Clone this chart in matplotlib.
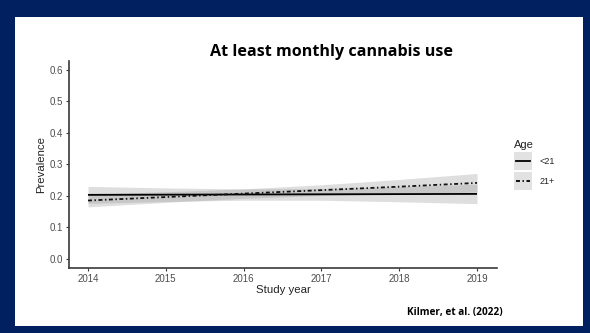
import matplotlib.pyplot as plt
from matplotlib.patches import Rectangle
from matplotlib.lines import Line2D

years = [2014, 2015, 2016, 2017, 2018, 2019]

# Fitted prevalence and confidence limits by age group
under21_fit = [0.203, 0.2036, 0.2042, 0.2048, 0.2054, 0.206]
under21_low = [0.176, 0.182, 0.186, 0.186, 0.181, 0.175]
under21_high = [0.230, 0.225, 0.222, 0.223, 0.229, 0.237]

over21_fit = [0.185, 0.196, 0.207, 0.218, 0.229, 0.241]
over21_low = [0.165, 0.179, 0.192, 0.201, 0.206, 0.212]
over21_high = [0.205, 0.213, 0.222, 0.235, 0.252, 0.271]

y_ticks = [0.0, 0.1, 0.2, 0.3, 0.4, 0.5, 0.6]
legend_labels = ["<21", "21+"]

NAVY = "#012060"
AXIS_GREY = "#3a3a3a"
TEXT_GREY = "#4d4d4d"
FONT = ["Liberation Sans", "DejaVu Sans"]
TITLE_FONT = ["Open Sans", "DejaVu Sans"]
DOTDASH = (0, (2.2, 1.4, 0.8, 1.4))

fig = plt.figure(figsize=(5.9, 3.33), dpi=100)
fig.patch.set_facecolor(NAVY)

# white slide panel inside the navy frame
fig.add_artist(Rectangle((15 / 590, 1 - 326 / 333), (583 - 15) / 590, (326 - 17) / 333,
                         transform=fig.transFigure, facecolor="white",
                         edgecolor="none", zorder=0))

ax = fig.add_axes([69 / 590, 1 - 267.7 / 333, (497 - 69) / 590, (267.7 - 61) / 333])
ax.set_facecolor("white")

ax.fill_between(years, under21_low, under21_high, color="#999999", alpha=0.32,
                linewidth=0, zorder=1)
ax.fill_between(years, over21_low, over21_high, color="#999999", alpha=0.32,
                linewidth=0, zorder=1)
ax.plot(years, under21_fit, color="black", linewidth=1.3, solid_capstyle="butt", zorder=3)
ax.plot(years, over21_fit, color="#111111", linewidth=1.3, linestyle=DOTDASH, zorder=3)

ax.set_xlim(2013.756, 2019.257)
ax.set_ylim(-0.0286, 0.6286)
ax.set_xticks(years)
ax.set_xticklabels([str(y) for y in years])
ax.set_yticks(y_ticks)
ax.set_yticklabels([f"{v:.1f}" for v in y_ticks])

for side in ["top", "right"]:
    ax.spines[side].set_visible(False)
for side in ["left", "bottom"]:
    ax.spines[side].set_color(AXIS_GREY)
    ax.spines[side].set_linewidth(1.2)

ax.tick_params(axis="both", colors=AXIS_GREY, length=2.5, width=0.8, pad=2)
for lab in ax.get_xticklabels() + ax.get_yticklabels():
    lab.set_color(TEXT_GREY)
    lab.set_fontsize(7)
    lab.set_family(FONT)

ax.set_xlabel("Study year", fontsize=8.2, family=FONT, color="#222222", labelpad=1)
ax.set_ylabel("Prevalence", fontsize=8.2, family=FONT, color="#222222", labelpad=2)

fig.text(331 / 590, 1 - 52 / 333, "At least monthly cannabis use", ha="center",
         va="center", fontsize=11.6, fontweight="bold", family=TITLE_FONT, color="black")
fig.text(455 / 590, 1 - 313 / 333, "Kilmer, et al. (2022)", ha="center", va="center",
         fontsize=7.2, fontweight="bold", family=TITLE_FONT, color="black")

# legend
fig.text(514 / 590, 1 - 145 / 333, "Age", ha="left", va="center", fontsize=8,
         family=FONT, color="#222222")
key_styles = [dict(linestyle="-"), dict(linestyle=DOTDASH)]
for i, (label, style) in enumerate(zip(legend_labels, key_styles)):
    y0 = 152 + i * 20
    fig.add_artist(Rectangle((514 / 590, 1 - (y0 + 18) / 333), 18 / 590, 18 / 333,
                             transform=fig.transFigure, facecolor="#e2e2e2",
                             edgecolor="none", zorder=2))
    yc = 1 - (y0 + 9) / 333
    fig.add_artist(Line2D([516 / 590, 530 / 590], [yc, yc], transform=fig.transFigure,
                          color="black", linewidth=1.3, zorder=3, **style))
    fig.text(540 / 590, yc, label, ha="left", va="center", fontsize=6.5,
             family=FONT, color="#222222")

fig.savefig("out.png", dpi=100, facecolor=fig.get_facecolor())
